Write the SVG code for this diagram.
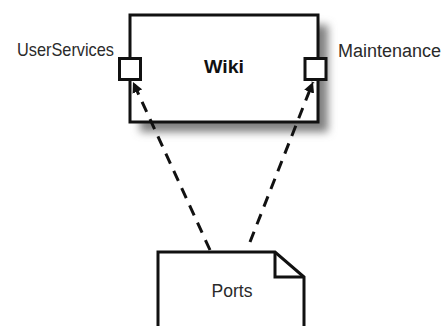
<svg xmlns="http://www.w3.org/2000/svg" width="446" height="326" viewBox="0 0 446 326">
<style>
.ln{fill:none;stroke:#111;stroke-width:3}
.bx{fill:#fff;stroke:#111;stroke-width:3}
.lbl{font-family:"Liberation Sans",Arial,sans-serif;font-size:19px;fill:#2a2a2a}
.sm{font-size:18px}
.ttl{font-family:"Liberation Sans",Arial,sans-serif;font-size:18px;font-weight:bold;fill:#111}
.dash{fill:none;stroke:#111;stroke-width:3;stroke-dasharray:11 8}
</style>
<defs>
<filter id="sh" x="-20%" y="-20%" width="150%" height="160%">
<feGaussianBlur stdDeviation="4"/>
</filter>
<marker id="ah" viewBox="0 0 10 10" refX="10" refY="5" markerWidth="3.5" markerHeight="3.5" orient="auto">
<path d="M0,0 L10,5 L0,10 z" fill="#111"/>
</marker>
</defs>
<rect x="140" y="25" width="188" height="107" fill="#808080" filter="url(#sh)"/>
<g id="wiki">
<rect class="bx" x="130" y="15" width="188" height="107"/>
<text class="ttl" x="224" y="73" text-anchor="middle" textLength="40" lengthAdjust="spacingAndGlyphs">Wiki</text>
</g>
<g id="userservices">
<rect class="bx" x="119.5" y="58.5" width="21" height="21"/>
<text class="lbl" x="17" y="56" textLength="97" lengthAdjust="spacingAndGlyphs">UserServices</text>
</g>
<g id="maintenance">
<rect class="bx" x="305" y="58.5" width="21" height="21"/>
<text class="lbl sm" x="338" y="57" textLength="103" lengthAdjust="spacingAndGlyphs">Maintenance</text>
</g>
<g id="ports">
<path class="bx" d="M158,330 L158,252 L275,252 L304,277 L304,330"/>
<path class="ln" d="M275,252 L275,277 L304,277"/>
<text class="lbl" x="232" y="297" text-anchor="middle" textLength="41" lengthAdjust="spacingAndGlyphs">Ports</text>
</g>
<g id="connectors">
<path class="dash" d="M210,250 L133,82" marker-end="url(#ah)"/>
<path class="dash" d="M250,242 L313,82" marker-end="url(#ah)"/>
</g>
</svg>
